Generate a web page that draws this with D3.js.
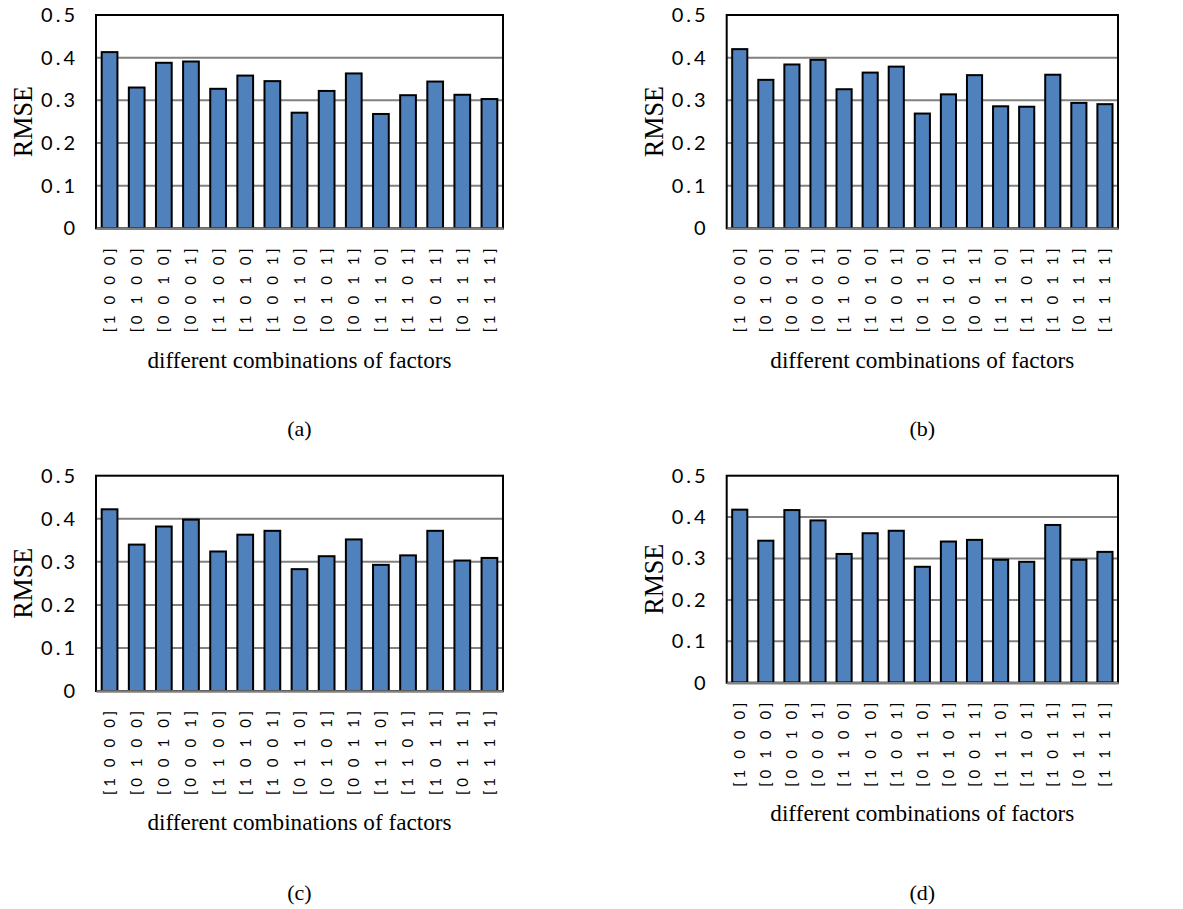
<!DOCTYPE html>
<html>
<head>
<meta charset="utf-8">
<script src="https://cdn.jsdelivr.net/npm/d3@7"></script>
<style>
  body { margin: 0; background: #fff; }
  svg { display: block; }
</style>
</head>
<body>
<svg id="chart" width="1183" height="909"></svg>
<script>
// Factor combinations on the category axis
const categories = [
  "[1 0 0 0]", "[0 1 0 0]", "[0 0 1 0]", "[0 0 0 1]", "[1 1 0 0]",
  "[1 0 1 0]", "[1 0 0 1]", "[0 1 1 0]", "[0 1 0 1]", "[0 0 1 1]",
  "[1 1 1 0]", "[1 1 0 1]", "[1 0 1 1]", "[0 1 1 1]", "[1 1 1 1]"
];

// RMSE for each combination, one array per sub-figure
const rmseA = [0.413, 0.330, 0.388, 0.391, 0.327, 0.358, 0.345, 0.271, 0.322, 0.363, 0.268, 0.312, 0.344, 0.313, 0.303];
const rmseB = [0.420, 0.348, 0.384, 0.395, 0.326, 0.365, 0.379, 0.269, 0.314, 0.359, 0.286, 0.285, 0.360, 0.294, 0.291];
const rmseC = [0.422, 0.340, 0.382, 0.398, 0.324, 0.363, 0.372, 0.283, 0.313, 0.352, 0.293, 0.315, 0.372, 0.303, 0.309];
const rmseD = [0.418, 0.343, 0.417, 0.392, 0.311, 0.361, 0.367, 0.280, 0.341, 0.345, 0.297, 0.292, 0.381, 0.297, 0.316];

const yTicks = [0, 0.1, 0.2, 0.3, 0.4, 0.5];
const panelTags = ["(a)", "(b)", "(c)", "(d)"];
const yTitle = "RMSE";
const xTitle = "different combinations of factors";

// Placement of each sub-figure on the page
const panels = [
  { values: rmseA, tag: panelTags[0], left: 96,    right: 503,  top: 15,    bottom: 228.3, titleY: 360, tagY: 428 },
  { values: rmseB, tag: panelTags[1], left: 726.7, right: 1118, top: 15,    bottom: 228.3, titleY: 360, tagY: 428 },
  { values: rmseC, tag: panelTags[2], left: 96,    right: 503,  top: 475.7, bottom: 691,   titleY: 822, tagY: 892 },
  { values: rmseD, tag: panelTags[3], left: 726.7, right: 1118, top: 475.7, bottom: 682.7, titleY: 813, tagY: 892 }
];

const svg = d3.select("#chart");
const sansFont = "Lato, 'Open Sans', 'Liberation Sans', sans-serif";
const serifFont = "'Liberation Serif', 'Times New Roman', serif";

panels.forEach(p => {
  const g = svg.append("g");

  const y = d3.scaleLinear().domain([0, 0.5]).range([p.bottom, p.top]);
  const x = d3.scaleBand()
    .domain(categories)
    .range([p.left, p.right])
    .paddingInner(0.42)
    .paddingOuter(0.21);

  // horizontal gridlines
  g.append("g")
    .selectAll("line")
    .data(yTicks.filter(t => t > 0 && t < 0.5))
    .join("line")
    .attr("x1", p.left).attr("x2", p.right)
    .attr("y1", d => y(d)).attr("y2", d => y(d))
    .attr("stroke", "#808080")
    .attr("stroke-width", 2);

  // bars
  g.append("g")
    .selectAll("rect")
    .data(p.values)
    .join("rect")
    .attr("x", (d, i) => x(categories[i]))
    .attr("width", x.bandwidth())
    .attr("y", d => y(d))
    .attr("height", d => y(0) - y(d))
    .attr("fill", "#4F81BD")
    .attr("stroke", "#000")
    .attr("stroke-width", 2);

  // plot-area frame
  g.append("rect")
    .attr("x", p.left).attr("y", p.top)
    .attr("width", p.right - p.left)
    .attr("height", p.bottom - p.top)
    .attr("fill", "none")
    .attr("stroke", "#000")
    .attr("stroke-width", 2);

  // value axis labels
  const yAxis = g.append("g")
    .attr("transform", `translate(${p.left},0)`)
    .call(d3.axisLeft(y).tickValues(yTicks).tickSize(0).tickPadding(21)
      .tickFormat(d => d === 0 ? "0" : d3.format(".1f")(d)));
  yAxis.select(".domain").remove();
  yAxis.selectAll("text")
    .attr("font-family", sansFont)
    .attr("font-size", 20)
    .attr("fill", "#000")
    .each(function (d) {
      if (d !== 0) d3.select(this).attr("textLength", 34).attr("lengthAdjust", "spacing");
    });

  // category axis with rotated labels
  const xAxis = g.append("g")
    .attr("transform", `translate(0,${p.bottom})`)
    .call(d3.axisBottom(x).tickSize(0).tickSizeOuter(0));
  xAxis.select(".domain")
    .attr("stroke", "#808080")
    .attr("stroke-width", 2.5);
  xAxis.selectAll("text")
    .attr("transform", "rotate(-90)")
    .attr("x", -20)
    .attr("y", 0)
    .attr("dy", "0.36em")
    .attr("text-anchor", "end")
    .attr("font-family", sansFont)
    .attr("font-size", 15)
    .attr("fill", "#000")
    .attr("textLength", 84)
    .attr("lengthAdjust", "spacing");

  // axis titles
  const cy = (p.top + p.bottom) / 2;
  g.append("text")
    .attr("transform", `translate(${p.left - 73},${cy}) rotate(-90)`)
    .attr("text-anchor", "middle")
    .attr("dy", "0.35em")
    .attr("font-family", serifFont)
    .attr("font-size", 27)
    .attr("textLength", 71)
    .attr("lengthAdjust", "spacingAndGlyphs")
    .text(yTitle);

  const cx = (p.left + p.right) / 2;
  g.append("text")
    .attr("x", cx).attr("y", p.titleY)
    .attr("dy", "0.35em")
    .attr("text-anchor", "middle")
    .attr("font-family", serifFont)
    .attr("font-size", 24)
    .attr("textLength", 304)
    .attr("lengthAdjust", "spacingAndGlyphs")
    .text(xTitle);

  g.append("text")
    .attr("x", cx).attr("y", p.tagY)
    .attr("dy", "0.35em")
    .attr("text-anchor", "middle")
    .attr("font-family", serifFont)
    .attr("font-size", 22)
    .text(p.tag);
});
</script>
</body>
</html>
